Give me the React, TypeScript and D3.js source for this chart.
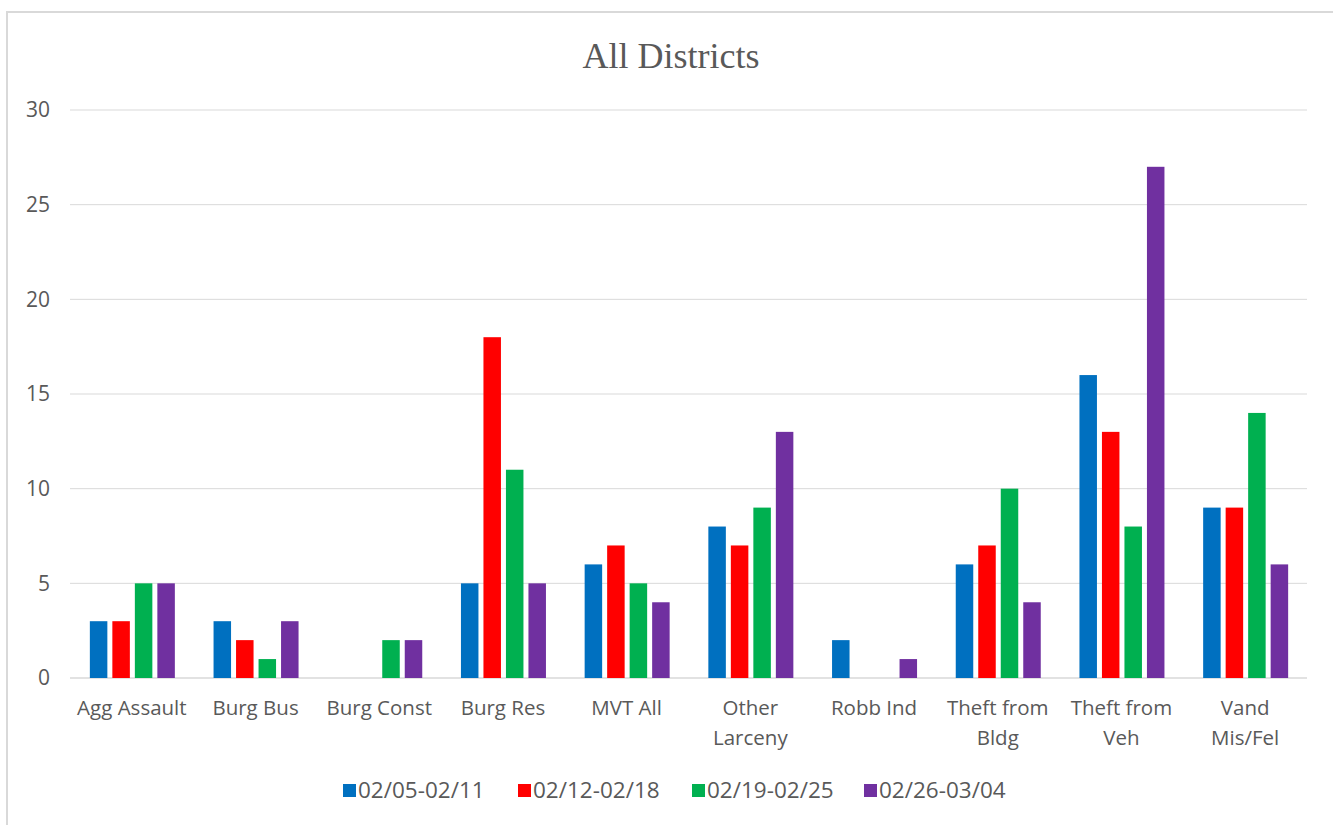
import React, { useEffect, useRef } from 'react';
import * as d3 from 'd3';

const categories = [
  'Agg Assault', 'Burg Bus', 'Burg Const', 'Burg Res', 'MVT All',
  'Other Larceny', 'Robb Ind', 'Theft from Bldg', 'Theft from Veh', 'Vand Mis/Fel',
];
const categoryLines = [
  ['Agg Assault'], ['Burg Bus'], ['Burg Const'], ['Burg Res'], ['MVT All'],
  ['Other', 'Larceny'], ['Robb Ind'], ['Theft from', 'Bldg'], ['Theft from', 'Veh'], ['Vand', 'Mis/Fel'],
];
const seriesNames = ['02/05-02/11', '02/12-02/18', '02/19-02/25', '02/26-03/04'];
const week1 = [3, 3, 0, 5, 6, 8, 2, 6, 16, 9];
const week2 = [3, 2, 0, 18, 7, 7, 0, 7, 13, 9];
const week3 = [5, 1, 2, 11, 5, 9, 0, 10, 8, 14];
const week4 = [5, 3, 2, 5, 4, 13, 1, 4, 27, 6];
const yTicks = [0, 5, 10, 15, 20, 25, 30];
const colors = ['#0070C0', '#FF0000', '#00B050', '#7030A0'];

const W = 1333;
const H = 825;
const font = '"Open Sans", "Noto Sans", sans-serif';

export default function App() {
  const ref = useRef<SVGSVGElement>(null);

  useEffect(() => {
    if (!ref.current) return;
    const svg = d3.select(ref.current);
    svg.selectAll('*').remove();

    const series = [week1, week2, week3, week4];
    const left = 70, right = 1307, top = 110, bottom = 678;
    const groupW = 85;

    // frame
    svg.append('rect')
      .attr('x', 7).attr('y', 12)
      .attr('width', W + 10).attr('height', H + 10)
      .attr('fill', '#fff').attr('stroke', '#d9d9d9').attr('stroke-width', 2);

    const x = d3.scaleBand<string>().domain(categories).range([left, right]);
    const y = d3.scaleLinear().domain([0, 30]).range([bottom, top]);
    const xs = d3.scaleBand<number>().domain([0, 1, 2, 3])
      .range([0, groupW]).paddingInner(5 / 22.5).paddingOuter(0);

    // gridlines
    svg.append('g').selectAll('line').data(yTicks).join('line')
      .attr('x1', left).attr('x2', right)
      .attr('y1', d => y(d)).attr('y2', d => y(d))
      .attr('stroke', '#d9d9d9').attr('stroke-width', d => d === 0 ? 1.5 : 1);

    // y labels
    svg.append('g').selectAll('text').data(yTicks).join('text')
      .attr('x', 50).attr('y', d => y(d)).attr('dy', '0.35em')
      .attr('text-anchor', 'end')
      .style('font-family', font).style('font-size', '21px').style('fill', '#595959')
      .text(d => d);

    // bars
    const offset = (x.bandwidth() - groupW) / 2 + 0.5;
    series.forEach((vals, si) => {
      const pts = vals.map((v, i) => ({ cat: categories[i], v })).filter(d => d.v > 0);
      svg.append('g').selectAll('rect').data(pts).join('rect')
        .attr('x', d => (x(d.cat) as number) + offset + (xs(si) as number))
        .attr('y', d => y(d.v))
        .attr('width', xs.bandwidth())
        .attr('height', d => y(0) - y(d.v))
        .attr('fill', colors[si]);
    });

    // category labels
    const cat = svg.append('g');
    categoryLines.forEach((lines, i) => {
      const cx = (x(categories[i]) as number) + x.bandwidth() / 2;
      const t = cat.append('text')
        .attr('text-anchor', 'middle')
        .style('font-family', font).style('font-size', '20.5px').style('fill', '#595959');
      lines.forEach((ln, j) => {
        t.append('tspan').attr('x', cx).attr('y', 715 + j * 30).text(ln);
      });
    });

    // title
    svg.append('text')
      .attr('x', 671).attr('y', 68).attr('text-anchor', 'middle')
      .style('font-family', '"Liberation Serif", serif').style('font-size', '36px')
      .style('fill', '#595959')
      .text('All Districts');

    // legend
    const legendX = [343, 518, 692, 864];
    const lg = svg.append('g');
    seriesNames.forEach((name, i) => {
      lg.append('rect').attr('x', legendX[i]).attr('y', 784)
        .attr('width', 13).attr('height', 13).attr('fill', colors[i]);
      lg.append('text').attr('x', legendX[i] + 15).attr('y', 798)
        .style('font-family', font).style('font-size', '22.5px').style('fill', '#595959')
        .text(name);
    });
  }, []);

  return (
    <svg ref={ref} width={W} height={H}
      style={{ position: 'absolute', left: 0, top: 0, background: '#fff' }} />
  );
}
